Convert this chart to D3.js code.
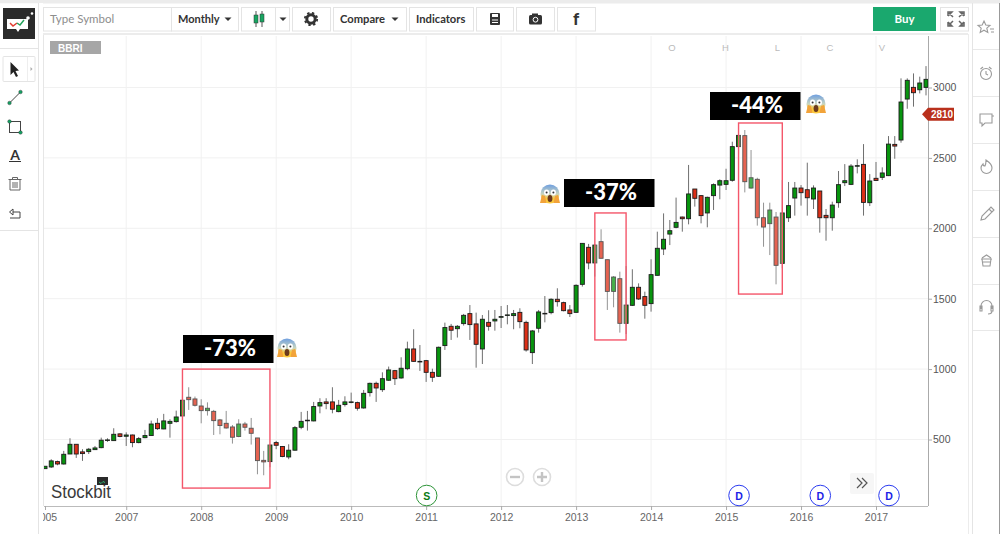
<!DOCTYPE html>
<html>
<head>
<meta charset="utf-8">
<style>
body { margin: 0; background: #fff; }
text { font-family: "Liberation Sans", sans-serif; }
.ui text, text.ui { font-family: Lato, sans-serif; }
</style>
</head>
<body>
<script src="https://d3js.org/d3.v7.min.js"></script>
<div id="container1"></div>
<script>

const symbol = "BBRI";
const lastPrice = 2810;
const priceTicks = [500, 1000, 1500, 2000, 2500, 3000];
const yearTicks = ["2005-12","2007-01","2008-01","2009-01","2010-01","2011-01","2012-01","2013-01","2014-01","2015-01","2016-01","2017-01"];
const yearLabels = ["2005","2007","2008","2009","2010","2011","2012","2013","2014","2015","2016","2017"];

const opens = [293,305,343,326,397,466,412,414,428,442,
496,492,540,523,532,478,513,528,615,575,
615,627,667,800,788,738,705,700,639,615,
589,521,610,580,511,352,343,478,450,376,
424,587,634,632,738,767,767,698,748,765,
762,724,833,899,854,921,989,937,1003,1143,
1053,1060,977,949,1167,1304,1287,1323,1394,1321,
1143,1332,1342,1368,1382,1380,1403,1332,1117,1290,
1394,1401,1496,1472,1420,1403,1602,1865,1754,1905,
1777,1552,1642,1325,1453,1581,1515,1465,1666,1853,
1959,2007,2080,2068,2279,2232,2109,2232,2307,2312,
2341,2580,2658,2286,2348,2075,2033,2080,1751,2075,
2215,2286,2274,2208,2265,2092,2075,2182,2324,2312,
2442,2454,2182,2355,2362,2374,2596,2627,2918,3001,
2984,3001];
const highs = [310,360,350,419,509,466,431,440,454,513,
509,580,544,551,535,518,568,634,651,682,
644,705,812,871,805,786,764,710,646,703,
603,644,625,653,511,419,461,490,454,466,
596,696,703,767,793,793,871,781,807,833,
769,852,904,911,977,1018,994,1084,1195,1283,
1171,1065,1003,1160,1330,1321,1313,1392,1455,1401,
1384,1418,1420,1448,1455,1420,1432,1344,1278,1420,
1519,1503,1574,1479,1455,1602,1893,1889,1889,1993,
1777,1661,1692,1732,1709,1609,1550,1780,1976,2106,
2059,2218,2083,2450,2279,2236,2225,2319,2348,2423,
2615,2660,2698,2556,2359,2182,2182,2116,2343,2329,
2329,2307,2466,2305,2265,2137,2189,2407,2456,2456,
2490,2598,2385,2471,2433,2655,2655,3065,3065,3100,
3077,3152];
const lows = [293,298,317,322,397,369,348,397,426,438,
483,490,516,454,445,473,509,525,568,573,
513,620,663,710,734,615,670,532,537,577,
471,516,563,464,253,246,303,431,374,360,
421,573,563,629,686,715,686,693,734,757,
705,719,805,767,838,916,887,932,992,1051,
987,909,909,944,1136,1207,1224,1309,1207,1010,
1036,1273,1273,1292,1318,1283,1290,1124,1036,1259,
1332,1389,1444,1410,1370,1401,1586,1709,1657,1787,
1420,1439,1259,1249,1448,1491,1358,1408,1664,1810,
1881,2000,1976,2028,2154,2035,2007,2130,2206,2272,
2331,2527,2255,2281,2019,1869,1810,1602,1716,2045,
2090,2161,2090,2137,1969,1912,1983,2146,2300,2307,
2390,2090,2158,2336,2343,2371,2494,2608,2849,2864,
2958,2944];
const closes = [310,348,326,395,466,397,400,431,440,495,
497,537,521,532,478,506,528,610,577,632,
629,660,779,783,743,705,722,634,599,582,
516,610,587,544,350,341,461,459,379,424,
584,629,637,734,762,755,715,743,767,767,
722,828,899,866,932,994,932,1006,1143,1055,
1055,977,942,1155,1295,1276,1304,1382,1316,1176,
1354,1304,1354,1373,1385,1394,1337,1136,1271,1406,
1396,1496,1479,1415,1394,1595,1893,1754,1881,1787,
1552,1654,1325,1455,1581,1498,1453,1671,1858,1922,
1983,2042,2068,2244,2213,2090,2220,2310,2338,2338,
2580,2660,2331,2359,2075,2009,2130,1737,2109,2161,
2286,2253,2217,2286,2075,2075,2165,2310,2338,2442,
2445,2184,2336,2340,2393,2598,2584,2897,3051,2963,
3032,3058];

// drop boxes drawn on the chart
const dropLabels = ["-73%", "-37%", "-44%"];
const dropStart = ["2007-10", "2013-04", "2015-03"];
const dropEnd = ["2008-12", "2013-09", "2015-10"];
const dropTop = [1000, 2109, 2748];
const dropBottom = [155, 1207, 1533];

const eventMonths = ["2011-01", "2015-03", "2016-04", "2017-03"];
const eventLabels = ["S", "D", "D", "D"];

const months = d3.utcMonths(new Date(Date.UTC(2005, 11, 1)), new Date(Date.UTC(2017, 9, 1))).map(d3.utcFormat("%Y-%m"));
const candles = months.map((m, i) => ({m, o: opens[i], h: highs[i], l: lows[i], c: closes[i]}));

const svg = d3.select("#container1").append("svg")
    .attr("width", 1000).attr("height", 534)
    .style("display", "block");

const defs = svg.append("defs");
const grad = defs.append("linearGradient").attr("id", "face").attr("x1", 0).attr("x2", 0).attr("y1", 0).attr("y2", 1);
grad.append("stop").attr("offset", "0%").attr("stop-color", "#6f9fe0");
grad.append("stop").attr("offset", "50%").attr("stop-color", "#c9d6c0");
grad.append("stop").attr("offset", "75%").attr("stop-color", "#fbc93c");

const x = d3.scalePoint().domain(months).range([45, 926]);
const y = d3.scaleLinear().domain([500, 3000]).range([439.5, 87.5]);

// chart frame
const plot = svg.append("g");
plot.selectAll(".vgrid").data(yearTicks.slice(1)).join("line")
    .attr("x1", d => x(d)).attr("x2", d => x(d))
    .attr("y1", 36).attr("y2", 506)
    .attr("stroke", "#f1f1f1");
plot.selectAll(".hgrid").data(priceTicks).join("line")
    .attr("x1", 44).attr("x2", 928)
    .attr("y1", d => y(d)).attr("y2", d => y(d))
    .attr("stroke", "#f1f1f1");

// candles
const candle = plot.selectAll(".candle").data(candles).join("g");
candle.append("line")
    .attr("x1", d => x(d.m)).attr("x2", d => x(d.m))
    .attr("y1", d => y(d.h)).attr("y2", d => y(d.l))
    .attr("stroke", "#6f6f6f").attr("stroke-width", 1);
candle.append("rect")
    .attr("x", d => x(d.m) - 2).attr("width", 4)
    .attr("y", d => y(Math.max(d.o, d.c)))
    .attr("height", d => Math.max(0.6, Math.abs(y(d.o) - y(d.c))))
    .attr("fill", d => d.c >= d.o ? "#08950f" : "#dc2f17")
    .attr("stroke", "#1c1c1c").attr("stroke-width", 0.9);

// axes
const xAxis = d3.axisBottom(x).tickValues(yearTicks)
    .tickFormat(d => yearLabels[yearTicks.indexOf(d)]).tickSizeOuter(0).tickSize(4);
const gx = svg.append("g").attr("transform", "translate(0,506)").call(xAxis);
gx.select(".domain").attr("stroke", "#bbb").attr("d", "M44,0.5H928");
gx.selectAll(".tick line").attr("stroke", "#aaa");
gx.selectAll("text").attr("fill", "#666").attr("font-size", 10.5).attr("y", 8);

const yAxis = d3.axisRight(y).tickValues(priceTicks).tickFormat(d3.format("d")).tickSize(4).tickSizeOuter(0);
const gy = svg.append("g").attr("transform", "translate(928,0)").call(yAxis);
gy.select(".domain").attr("stroke", "#aaa").attr("d", "M0.5,36V506");
gy.selectAll(".tick line").attr("stroke", "#aaa");
gy.selectAll("text").attr("fill", "#555").attr("font-size", 10.5).attr("x", 5);

// drawn drop boxes
const boxes = svg.append("g");
dropLabels.forEach((label, i) => {
  boxes.append("rect")
      .attr("x", x(dropStart[i])).attr("width", x(dropEnd[i]) - x(dropStart[i]))
      .attr("y", y(dropTop[i])).attr("height", y(dropBottom[i]) - y(dropTop[i]))
      .attr("fill", "#fff").attr("fill-opacity", 0.25)
      .attr("stroke", "#f4566a").attr("stroke-width", 1.4);
});

const labelBoxX = [183, 564, 710];
const labelBoxY = [335, 179, 92];
const emojiX = [287, 550, 816];
const emojiY = [348, 194, 104];
dropLabels.forEach((label, i) => {
  boxes.append("rect").attr("x", labelBoxX[i]).attr("y", labelBoxY[i])
      .attr("width", 90.5).attr("height", 28).attr("fill", "#000");
  boxes.append("text").attr("x", labelBoxX[i] + 47).attr("y", labelBoxY[i] + 21)
      .attr("text-anchor", "middle").attr("fill", "#fff")
      .style("font-family", "Lato, sans-serif").style("font-weight", 900).style("font-size", "22px")
      .text(label);
  const e = boxes.append("g").attr("transform", `translate(${emojiX[i]},${emojiY[i]})`);
  e.append("circle").attr("r", 9.5).attr("fill", "url(#face)");
  e.append("ellipse").attr("cx", -3.4).attr("cy", -1.5).attr("rx", 2.6).attr("ry", 3).attr("fill", "#fff");
  e.append("ellipse").attr("cx", 3.4).attr("cy", -1.5).attr("rx", 2.6).attr("ry", 3).attr("fill", "#fff");
  e.append("circle").attr("cx", -3.4).attr("cy", -1.5).attr("r", 1).attr("fill", "#333");
  e.append("circle").attr("cx", 3.4).attr("cy", -1.5).attr("r", 1).attr("fill", "#333");
  e.append("ellipse").attr("cy", 4.5).attr("rx", 2.4).attr("ry", 3.6).attr("fill", "#6b3a1e");
  e.append("path").attr("d", "M-10,9 L-8,1 L-5,2 L-3.5,9 Z M10,9 L8,1 L5,2 L3.5,9 Z").attr("fill", "#f2a33a");
});

// last price tag
const tag = svg.append("g").attr("transform", `translate(0,${y(lastPrice)})`);
tag.append("path").attr("d", "M922,0 L928,-6.5 H954 V6.5 H928 Z").attr("fill", "#b9301c");
tag.append("text").attr("x", 942).attr("y", 3.8).attr("text-anchor", "middle")
    .attr("fill", "#fff").attr("font-size", 10).attr("font-weight", 700).text(lastPrice);

// events along the bottom
const ev = svg.selectAll(".ev").data(eventMonths).join("g")
    .attr("transform", d => `translate(${x(d) + 0.5},495.5)`);
ev.append("circle").attr("r", 10.3).attr("fill", "#fff")
    .attr("stroke", (d, i) => eventLabels[i] === "S" ? "#2d9438" : "#2b3cf0").attr("stroke-width", 1);
ev.append("text").attr("y", 4).attr("text-anchor", "middle").attr("font-size", 10.5).attr("font-weight", 700)
    .attr("fill", (d, i) => eventLabels[i] === "S" ? "#0b7a16" : "#1a22e6")
    .text((d, i) => eventLabels[i]);

// ohlc letters
const ohlcLetters = ["O", "H", "L", "C", "V"];
const ohlcX = [672, 725.5, 777.5, 830, 882];
ohlcLetters.forEach((t, i) => svg.append("text").attr("x", ohlcX[i]).attr("y", 51)
    .attr("text-anchor", "middle").attr("font-size", 9.5).attr("fill", "#bbb").text(t));

// symbol tag
svg.append("rect").attr("x", 50).attr("y", 41).attr("width", 51).attr("height", 13).attr("fill", "#a6a6a6");
svg.append("text").attr("x", 58).attr("y", 51.5).attr("fill", "#fff").attr("font-size", 10).attr("font-weight", 700).text(symbol);

// zoom buttons and scroll
[[515, "M-5,0H5"], [542, "M-5,0H5M0,-5V5"]].forEach(b => {
  const g = svg.append("g").attr("transform", `translate(${b[0]},477)`);
  g.append("circle").attr("r", 8.5).attr("fill", "#fff").attr("stroke", "#ddd").attr("stroke-width", 1.6);
  g.append("path").attr("d", b[1]).attr("stroke", "#c4c4c4").attr("stroke-width", 2.4);
});
svg.append("rect").attr("x", 850).attr("y", 473).attr("width", 24).attr("height", 21).attr("rx", 2).attr("fill", "#f6f6f6");
svg.append("path").attr("d", "M857,478 l5,5 l-5,5 M862,478 l5,5 l-5,5").attr("fill", "none").attr("stroke", "#555").attr("stroke-width", 1.2);

// watermark
svg.append("text").attr("x", 51).attr("y", 498).attr("fill", "#3a3a3a")
    .attr("textLength", 60).attr("lengthAdjust", "spacingAndGlyphs")
    .style("font-size", "19px").text("Stockbit");
svg.append("rect").attr("x", 97).attr("y", 477).attr("width", 11).attr("height", 8).attr("fill", "#2a2a2a");
svg.append("path").attr("d", "M99,482 l2,1.5 l2,-2 l2,1").attr("fill", "none").attr("stroke", "#2bb673").attr("stroke-width", 1);

// left tool panel, covers the clipped first label
const ui = svg.append("g").attr("class", "ui");
ui.append("rect").attr("x", 0).attr("y", 0).attr("width", 1000).attr("height", 3.5).attr("fill", "#ececec");
ui.append("rect").attr("x", 0).attr("y", 3.5).attr("width", 38).attr("height", 530.5).attr("fill", "#fff");
ui.append("line").attr("x1", 38.5).attr("x2", 38.5).attr("y1", 3).attr("y2", 534).attr("stroke", "#e4e4e4");
ui.append("line").attr("x1", 43.5).attr("x2", 43.5).attr("y1", 34).attr("y2", 506).attr("stroke", "#e6e6e6");
ui.append("rect").attr("x", 39).attr("y", 3).attr("width", 4).attr("height", 531).attr("fill", "#fff");
ui.append("line").attr("x1", 0).attr("x2", 38).attr("y1", 48.5).attr("y2", 48.5).attr("stroke", "#e4e4e4");
ui.append("line").attr("x1", 0).attr("x2", 38).attr("y1", 230.5).attr("y2", 230.5).attr("stroke", "#e4e4e4");
ui.append("line").attr("x1", 43).attr("x2", 968).attr("y1", 34).attr("y2", 34).attr("stroke", "#ececec").attr("stroke-width", 2);
ui.append("line").attr("x1", 968.5).attr("x2", 968.5).attr("y1", 34).attr("y2", 534).attr("stroke", "#ececec");

// logo
ui.append("rect").attr("x", 3).attr("y", 8).attr("width", 32).attr("height", 31).attr("fill", "#2b2b2b");
ui.append("path").attr("d", "M7,19 H28 V29 H20 L18,32 L16,29 H7 Z").attr("fill", "#fff");
ui.append("path").attr("d", "M10,23 l3,3 l4,-3").attr("fill", "none").attr("stroke", "#e23b2e").attr("stroke-width", 1.5);
ui.append("path").attr("d", "M17,23 l3,2 l4,-5").attr("fill", "none").attr("stroke", "#22a35a").attr("stroke-width", 1.5);
ui.append("circle").attr("cx", 28).attr("cy", 18).attr("r", 1.8).attr("fill", "#fff");
ui.append("circle").attr("cx", 32).attr("cy", 13.5).attr("r", 1.3).attr("fill", "#fff");

// toolbar buttons
const btnX = [43, 171, 241, 292, 333, 409, 476, 516, 557, 940];
const btnW = [128, 67, 48, 38, 73, 64, 37, 38, 38, 28];
btnX.forEach((bx, i) => ui.append("rect").attr("x", bx + 0.5).attr("y", 7.5).attr("width", btnW[i]).attr("height", 23.5)
    .attr("fill", "#fff").attr("stroke", "#e4e4e4"));
ui.append("line").attr("x1", 275.5).attr("x2", 275.5).attr("y1", 8).attr("y2", 31).attr("stroke", "#e4e4e4");

const uiText = (t, tx, ty, size, col, weight) => ui.append("text").attr("x", tx).attr("y", ty)
    .attr("font-size", size).attr("fill", col).attr("font-weight", weight).text(t);
uiText("Type Symbol", 50, 23, 11.5, "#8d8d8d", 400);
uiText("Monthly", 178, 23, 11, "#333", 700);
uiText("Compare", 340, 23, 11.2, "#333", 700);
uiText("Indicators", 416, 23, 11.2, "#333", 700);
const caret = cx => ui.append("path").attr("d", `M${cx - 3.5},17.5 h7 l-3.5,3.5 z`).attr("fill", "#333");
[228, 283, 395].forEach(caret);

// candle type icon
ui.append("path").attr("d", "M256,11 V27 M262,11 V27").attr("stroke", "#555");
ui.append("rect").attr("x", 254).attr("y", 15).attr("width", 4).attr("height", 8).attr("fill", "#17a561").attr("stroke", "#333").attr("stroke-width", 0.5);
ui.append("rect").attr("x", 260).attr("y", 14).attr("width", 4).attr("height", 8).attr("fill", "#17a561").attr("stroke", "#333").attr("stroke-width", 0.5);
// gear
ui.append("circle").attr("cx", 311).attr("cy", 19).attr("r", 4.2).attr("fill", "none").attr("stroke", "#333").attr("stroke-width", 3);
ui.append("circle").attr("cx", 311).attr("cy", 19).attr("r", 6.2).attr("fill", "none").attr("stroke", "#333").attr("stroke-width", 1.8).attr("stroke-dasharray", "2.4 2.5");
// save
ui.append("rect").attr("x", 490).attr("y", 13).attr("width", 10).attr("height", 12).attr("rx", 1).attr("fill", "#333");
ui.append("rect").attr("x", 492).attr("y", 14).attr("width", 6).attr("height", 3).attr("fill", "#fff");
ui.append("path").attr("d", "M492,20h6M492,22.5h6").attr("stroke", "#fff");
// camera
ui.append("rect").attr("x", 529).attr("y", 15).attr("width", 13).attr("height", 9.5).attr("rx", 1.5).attr("fill", "#333");
ui.append("rect").attr("x", 532).attr("y", 13.5).attr("width", 6).attr("height", 3).attr("fill", "#333");
ui.append("circle").attr("cx", 535.5).attr("cy", 19.7).attr("r", 2.4).attr("fill", "none").attr("stroke", "#fff");
// facebook
ui.append("text").attr("x", 576).attr("y", 25).attr("text-anchor", "middle").attr("font-size", 17).attr("font-weight", 900).attr("fill", "#333").text("f");

// buy
ui.append("rect").attr("x", 873).attr("y", 7).attr("width", 63).attr("height", 24).attr("fill", "#1aa86e");
ui.append("text").attr("x", 904.5).attr("y", 23).attr("text-anchor", "middle").attr("font-size", 11.5).attr("font-weight", 700).attr("fill", "#fff").text("Buy");
// fullscreen
ui.append("path").attr("d", "M948,16 v-4 h4 l-4,4 M964,16 v-4 h-4 l4,4 M948,22 v4 h4 l-4,-4 M964,22 v4 h-4 l4,-4 M949,13 l4,4 M963,13 l-4,4 M949,25 l4,-4 M963,25 l-4,-4")
    .attr("fill", "none").attr("stroke", "#666").attr("stroke-width", 1.5);

// left tools
ui.append("rect").attr("x", 3).attr("y", 56.5).attr("width", 32).attr("height", 25).attr("rx", 1).attr("fill", "#fff").attr("stroke", "#e4e4e4");
ui.append("line").attr("x1", 27.5).attr("x2", 27.5).attr("y1", 57).attr("y2", 81).attr("stroke", "#eee");
ui.append("path").attr("d", "M10.5,62 L10.5,75 L13.5,72 L16,77 L18,76 L15.5,71 L19,70.5 Z").attr("fill", "#222");
ui.append("path").attr("d", "M30.5,67 l2,2 l-2,2 z").attr("fill", "#aaa");
ui.append("line").attr("x1", 9.5).attr("y1", 103).attr("x2", 20.5).attr("y2", 92).attr("stroke", "#444");
ui.append("rect").attr("x", 9.5).attr("y", 121.5).attr("width", 11).attr("height", 11).attr("fill", "none").attr("stroke", "#444");
[[9.5, 103], [20.5, 92], [9.5, 121.5], [20.5, 132.5]].forEach(p => ui.append("circle").attr("cx", p[0]).attr("cy", p[1]).attr("r", 1.8).attr("fill", "#15a063").attr("stroke", "#333").attr("stroke-width", 0.4));
ui.append("text").attr("x", 15).attr("y", 160).attr("text-anchor", "middle").attr("font-size", 14).attr("font-weight", 700).attr("fill", "#333").text("A");
ui.append("line").attr("x1", 9).attr("x2", 21).attr("y1", 161.5).attr("y2", 161.5).attr("stroke", "#333");
ui.append("path").attr("d", "M10,180 V190 H20 V180 M8.5,179.5 H21.5 M12.5,179 V177.5 H17.5 V179 M13,182 V188 M15,182 V188 M17,182 V188").attr("fill", "none").attr("stroke", "#666");
ui.append("path").attr("d", "M10,218 H20 V212 H13 M13,209 L9.5,212 L13,215 Z").attr("fill", "none").attr("stroke", "#444");

// right side panel
ui.append("rect").attr("x", 973).attr("y", 4).attr("width", 26).attr("height", 530).attr("fill", "#fff");
ui.append("line").attr("x1", 972.5).attr("x2", 972.5).attr("y1", 3).attr("y2", 534).attr("stroke", "#e4e4e4");
ui.append("line").attr("x1", 999.5).attr("x2", 999.5).attr("y1", 3).attr("y2", 534).attr("stroke", "#999");
[49, 96, 143, 190, 237, 284, 330].forEach(sy => ui.append("line").attr("x1", 973).attr("x2", 999).attr("y1", sy + 0.5).attr("y2", sy + 0.5).attr("stroke", "#e8e8e8"));
const ic = ui.append("g").attr("fill", "none").attr("stroke", "#9a9a9a").attr("stroke-width", 1.1);
ic.append("path").attr("d", "M984,21 l1.8,4 l4.2,.4 l-3.2,2.8 l1,4.2 l-3.8,-2.2 l-3.8,2.2 l1,-4.2 l-3.2,-2.8 l4.2,-.4 z M990,29 h4 M991,32 h3");
ic.append("circle").attr("cx", 986).attr("cy", 74).attr("r", 5.5);
ic.append("path").attr("d", "M986,71 V74 L988,75 M980.5,69 l2.5,-2 M991.5,69 l-2.5,-2");
ic.append("path").attr("d", "M980,114 h12 v9 h-7 l-3,3 v-3 h-2 z M992,116 h2");
ic.append("path").attr("d", "M986,160 c3,2 6,5 6,8 a5.5,5.5 0 0 1 -11,0 c0,-2 1,-3 2,-4 c0,2 1,2 2,2 c1,-2 1,-4 1,-6 z");
ic.append("path").attr("d", "M981,220 l1,-4 l9,-9 l3,3 l-9,9 z M989,209 l3,3");
ic.append("path").attr("d", "M981,259 h11 M982,259 l1,7 h7 l1,-7 M982,258 l4.5,-3 l4.5,3 M983,262 h8");
ic.append("path").attr("d", "M981,309 v-3 a5.5,5.5 0 0 1 11,0 v3 M980,306 h2 v5 h-2 z M991,306 h2 v5 h-2 z M992,311 q0,3 -4,3");

</script>
</body>
</html>
